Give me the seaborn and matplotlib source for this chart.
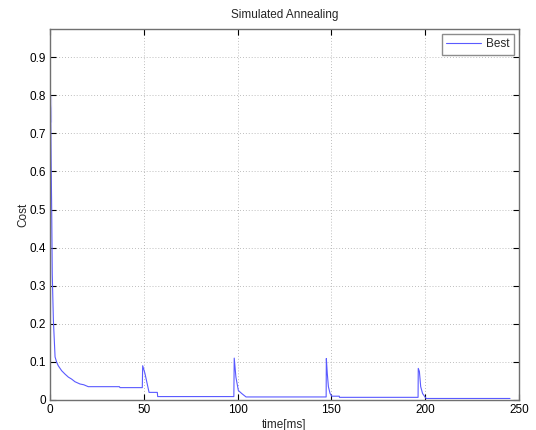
import matplotlib
matplotlib.use("Agg")
import matplotlib.pyplot as plt
import seaborn as sns
import pandas as pd

# Data
time_ms = [0, 0.35, 0.35, 0.6, 0.9, 1.2, 1.8, 2.7, 3.5, 4.4, 6.2, 8.0, 9.8, 11.5, 13.3,
           16.0, 18.0, 20.4, 37.0, 37.3, 49.2, 49.4, 50.6, 52.8, 57.2, 57.4,
           98.0, 98.2, 99.1, 100.4, 102.2, 104.5,
           147.2, 147.3, 147.8, 148.4, 149.3, 150.2, 154.2, 154.3,
           196.2, 196.3, 196.9, 197.6, 198.6, 199.9, 200.5, 245.2]
cost = [0.8, 0.8, 0.73, 0.63, 0.5, 0.33, 0.21, 0.113, 0.1, 0.09, 0.077, 0.068, 0.06, 0.055, 0.048,
        0.042, 0.04, 0.035, 0.035, 0.0325, 0.0325, 0.09, 0.07, 0.02, 0.02, 0.009,
        0.009, 0.11, 0.06, 0.025, 0.017, 0.008,
        0.008, 0.109, 0.07, 0.035, 0.017, 0.01, 0.01, 0.007,
        0.007, 0.083, 0.075, 0.035, 0.017, 0.008, 0.004, 0.004]
series_name = "Best"
x_ticks = [0, 50, 100, 150, 200, 250]
y_ticks = [0, 0.1, 0.2, 0.3, 0.4, 0.5, 0.6, 0.7, 0.8, 0.9]
y_tick_labels = ["0", "0.1", "0.2", "0.3", "0.4", "0.5", "0.6", "0.7", "0.8", "0.9"]

df = pd.DataFrame({"time": time_ms, "cost": cost, "series": series_name})

sns.set_theme(style="white")
plt.rcParams["font.family"] = ["Liberation Sans", "DejaVu Sans"]
plt.rcParams["font.size"] = 8.5

fig = plt.figure(figsize=(5.36, 4.30), dpi=100)
ax = fig.add_axes([50 / 536, 30 / 430, 469 / 536, 371 / 430])

sns.lineplot(data=df, x="time", y="cost", hue="series", sort=False,
             palette=["#5a5aff"], linewidth=0.8, ax=ax, legend=True)

ax.set_xlim(0, 250)
ax.set_ylim(0, 0.974)
ax.set_xticks(x_ticks)
ax.set_xticklabels([str(v) for v in x_ticks])
ax.set_yticks(y_ticks)
ax.set_yticklabels(y_tick_labels)
ax.grid(True, linestyle=(0, (1, 2.5)), color="#a8a8a8", linewidth=0.6)
ax.tick_params(direction="in", length=4, width=0.8, colors="#000000",
               labelsize=8.5, pad=3, top=True, right=True, left=True, bottom=True)
for s in ax.spines.values():
    s.set_color("#707070")
    s.set_linewidth(1.0)

ax.set_title("Simulated Annealing", fontsize=8.5, pad=8)
ax.set_xlabel("time[ms]", fontsize=8.5, labelpad=2)
ax.set_ylabel("Cost", fontsize=8.5)
ax.yaxis.set_label_coords(-0.045, 0.5)

leg = ax.legend(loc="upper right", fontsize=8.5, frameon=True, fancybox=False,
                edgecolor="#707070", handlelength=3.0, handletextpad=0.4,
                borderpad=0.35, borderaxespad=0.45)
leg.get_frame().set_linewidth(1.0)

fig.savefig("out.png", dpi=100, facecolor="white")
